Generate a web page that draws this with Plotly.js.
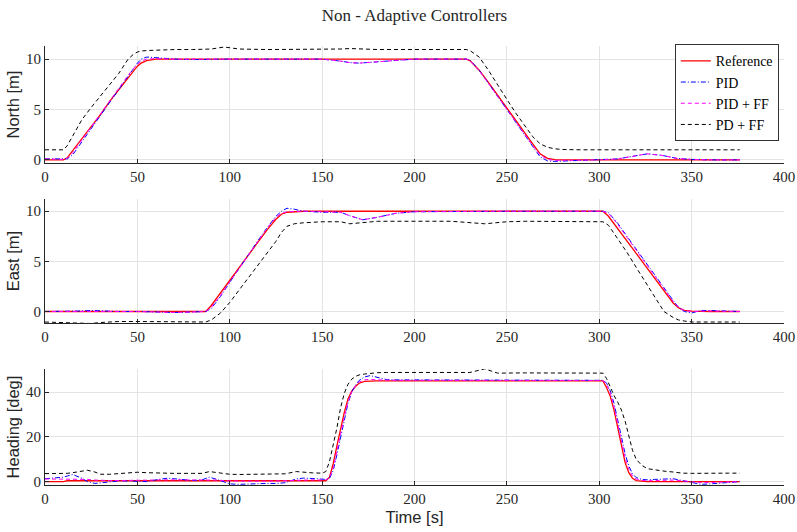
<!DOCTYPE html>
<html>
<head>
<meta charset="utf-8">
<script src="https://cdn.plot.ly/plotly-3.0.1.min.js"></script>
<style>html,body{margin:0;padding:0;background:#fff;}#chart{width:797px;height:532px;}</style>
</head>
<body>
<div id="chart"></div>
<script>
// ---------- DATA ----------
const seriesNames = ["Reference", "PID", "PID + FF", "PD + FF"];

// North [m]
const tNorth = [0,5,10,12,15,20,25,30,35,40,45,48,50,52,55,60,70,80,90,97,105,120,140,150,160,165,170,180,190,200,215,226,228,230,235,240,245,250,255,260,264,268,272,276,280,290,300,310,318,326,334,342,350,360,376];
const northRef = [0,0,0,0.2,0.9,2.1,3.3,4.5,5.8,7.0,8.2,8.9,9.3,9.6,9.85,10,10,10,10,10,10,10,10,10,10,10,10,10,10,10,10,10,10,9.85,8.9,7.7,6.4,5.2,3.9,2.6,1.6,0.6,0.15,0.03,0,0,0,0,0,0,0,0,0,0,0];
const northPID = [0.1,0.1,0.05,0.1,0.5,1.8,3.1,4.4,5.7,7.0,8.3,9.1,9.6,10.0,10.2,10.15,10.0,9.95,10.0,10.0,10.0,10.0,10.0,10.0,9.8,9.65,9.6,9.75,9.9,10.0,10.0,10.0,10.0,9.9,8.9,7.6,6.3,5.0,3.7,2.4,1.3,0.3,-0.1,-0.15,-0.12,-0.05,0.0,0.1,0.35,0.6,0.45,0.15,0.05,0.0,0.0];
const northPIDFF = [0.1,0.1,0.05,0.15,0.7,2.0,3.3,4.6,5.9,7.2,8.4,9.1,9.5,9.8,10.0,10.05,10.0,10.0,10.0,10.0,10.0,10.0,10.0,10.0,9.8,9.65,9.6,9.75,9.9,10.0,10.0,10.0,10.0,9.85,8.85,7.6,6.3,5.0,3.7,2.5,1.4,0.5,0.05,-0.05,-0.05,0,0,0.1,0.35,0.6,0.45,0.15,0.05,0,0];
const northPDFF = [1,1,1.0,1.4,2.4,4.0,5.2,6.3,7.4,8.6,10.0,10.5,10.7,10.8,10.85,10.9,10.95,10.95,11.0,11.2,11.0,10.95,10.95,10.95,11.0,11.05,11.0,10.95,10.95,10.95,10.95,10.95,10.95,10.85,10.2,8.9,7.4,6.0,4.6,3.3,2.3,1.6,1.25,1.1,1.03,1.0,1.0,1.0,1.0,1.0,1.0,1.0,1.0,1.0,1.0];

// East [m]
const tEast = [0,10,20,25,30,40,50,60,70,80,85,87,90,95,100,105,110,115,120,125,128,131,135,140,150,160,165,172,180,190,200,220,238,250,260,280,300,302,305,310,315,320,325,330,335,340,343,346,350,355,360,370,376];
const eastRef = [0,0,0,0,0,0,0,0,0,0,0,0,0.6,1.85,3.1,4.35,5.6,6.85,8.1,9.2,9.7,9.9,9.97,10,10,10,10,10,10,10,10,10,10,10,10,10,10,10,9.5,8.3,7.05,5.8,4.55,3.3,2.05,0.85,0.35,0.12,0.03,0,0,0,0];
const eastPID = [0,0,0.05,0.1,0.05,0,0,-0.05,-0.1,-0.05,0,0,0.3,1.5,2.9,4.3,5.7,7.0,8.3,9.5,10.0,10.3,10.2,10.0,9.9,9.9,9.55,9.15,9.4,9.8,9.95,10,10,10,10,10,10,10,9.85,8.8,7.5,6.2,4.9,3.6,2.3,1.1,0.4,0.0,-0.15,0.1,0.1,0,0];
const eastPIDFF = [0,0,0.05,0.05,0.05,0,0,-0.05,-0.1,-0.05,0,0,0.4,1.6,2.95,4.3,5.65,6.95,8.25,9.4,9.8,9.95,10.0,10.0,9.95,9.9,9.55,9.15,9.4,9.8,9.95,10,10,10,10,10,10,10,9.8,8.7,7.4,6.1,4.8,3.5,2.2,1.0,0.4,0.1,0,0.05,0.05,0,0];
const eastPDFF = [-1.05,-1.1,-1.2,-1.2,-1.1,-1.0,-1.0,-1.0,-1.05,-1.05,-1.05,-1.05,-0.85,-0.15,0.9,2.1,3.3,4.5,5.7,7.0,7.9,8.5,8.75,8.85,8.95,8.95,8.75,8.9,9.0,9.0,9.0,9.0,8.75,8.95,9.0,9.0,9.0,8.95,8.6,7.3,5.9,4.4,2.9,1.4,0.0,-0.6,-0.85,-0.95,-1.05,-1.05,-1.05,-1.05,-1.05];

// Heading [deg]
const tHeading = [0,5,10,12,15,20,23,27,30,35,40,45,50,55,60,66,70,80,85,89,93,100,105,110,120,125,130,136,140,145,150,152,154,156,158,160,162,164,166,168,170,173,176,180,185,190,200,220,230,238,245,260,280,300,302,304,306,308,310,312,314,316,318,320,323,326,330,335,340,345,350,355,360,370,376];
const headRef = [0,0,0,0.4,0.4,0.4,0.4,0.4,0.4,0.4,0.4,0.4,0.4,0.4,0.4,0.4,0.4,0.4,0.4,0.4,0.4,0.4,0.4,0.4,0.4,0.4,0.4,0.4,0.4,0.4,0.4,0.4,2,8,16,24,31,37,40.5,42.5,44,44.8,45,45,45,45,45,45,45,45,45,45,45,45,45,42,38,32,24,15.5,8.5,4,1.5,0.5,0.1,0,0,0,0,0,0,0,0,0,0];
const headPID = [1.3,1.5,2,2.5,3.2,1.5,0,-0.8,-0.5,0,0.3,0.3,0,0,0.8,1.5,1.3,0.5,0.8,2.0,1.0,-1.0,-1.2,-1.0,-0.8,-0.8,-0.5,1.2,1.6,1.4,1.0,1.0,1.5,5,12,20,28,35,40,43,45.2,46.8,47.4,46.5,45.6,45.5,45.5,45.5,45.5,45.3,45.2,45.3,45.3,45.3,45.3,44,40.5,35,28,20,12.5,7,3.5,1.8,1.0,0.8,1.0,1.2,1.3,0.5,-0.5,-1.2,-1.0,-0.3,0];
const headPIDFF = [1.2,1.2,1.2,1.2,1.2,1.2,1.0,0.7,0.5,0.5,0.5,0.6,0.8,0.8,0.8,0.8,0.8,0.8,0.8,0.9,0.7,0.3,0.2,0.2,0.2,0.3,0.4,0.8,0.9,0.8,0.7,0.8,1.8,6,13.5,21.5,29,35.5,40,42.8,44.5,45.5,45.7,45.5,45.3,45.3,45.3,45.3,45.2,45.1,45.1,45.2,45.2,45.2,45.2,43.5,39.5,33.5,26,18,10.5,5.5,2.5,1.2,0.6,0.4,0.5,0.6,0.7,0.4,0,-0.4,-0.4,-0.2,0];
const headPDFF = [3.6,3.6,3.6,3.7,4.0,4.8,5.1,4.3,3.3,3.3,3.6,3.9,4.2,4.0,3.8,3.7,3.7,3.7,3.7,4.5,4.0,3.3,3.2,3.2,3.3,3.3,3.5,4.5,4.2,3.9,3.8,4.5,9,16,24,33,39.5,43.5,45.8,47,47.7,48.1,48.5,48.7,48.8,48.8,48.8,48.8,48.8,50.4,48.5,48.6,48.6,48.6,48.5,46,42,38.5,35.5,32,27,21,14,10,7.3,5.8,5.2,4.7,4.3,3.8,3.7,3.8,3.8,3.8,3.8];

const xTicks = [0,50,100,150,200,250,300,350,400];

// ---------- STYLE ----------
const styles = [
  {color: "#ff0000", width: 1.3, dash: "solid"},
  {color: "#0000ff", width: 1, dash: "5px,2px,1px,2px"},
  {color: "#ff00ff", width: 1, dash: "4px,3px"},
  {color: "#000000", width: 1, dash: "4px,3px"}
];

const panels = [
  {t: tNorth, ys: [northRef, northPID, northPIDFF, northPDFF], xa: "x", ya: "y"},
  {t: tEast, ys: [eastRef, eastPID, eastPIDFF, eastPDFF], xa: "x2", ya: "y2"},
  {t: tHeading, ys: [headRef, headPID, headPIDFF, headPDFF], xa: "x3", ya: "y3"}
];

const traces = [];
panels.forEach((p, pi) => {
  p.ys.forEach((y, si) => {
    traces.push({
      x: p.t, y: y, type: "scatter", mode: "lines",
      name: seriesNames[si], xaxis: p.xa, yaxis: p.ya,
      line: styles[si], showlegend: pi === 0
    });
  });
});

const SERIF = "Liberation Serif";
const tickFont = {family: SERIF, size: 15, color: "#262626"};
const titleFont = {family: "Liberation Sans", size: 16.5, color: "#262626"};

function xaxis(anchor, showTitle) {
  const a = {
    domain: [0, 1], anchor: anchor, range: [0, 400], tickvals: xTicks,
    ticks: "inside", ticklen: 4, tickcolor: "#262626", tickwidth: 1,
    showline: true, linecolor: "#262626", linewidth: 1,
    showgrid: true, gridcolor: "#e3e3e3", gridwidth: 1, zeroline: false,
    tickfont: tickFont, automargin: false
  };
  if (showTitle) a.title = {text: "Time [s]", font: titleFont, standoff: 5};
  return a;
}
function yaxis(anchor, domain, range, tickvals, title) {
  return {
    domain: domain, anchor: anchor, range: range, tickvals: tickvals,
    ticks: "inside", ticklen: 4, tickcolor: "#262626", tickwidth: 1,
    showline: true, linecolor: "#262626", linewidth: 1,
    showgrid: true, gridcolor: "#e3e3e3", gridwidth: 1, zeroline: false,
    tickfont: tickFont, automargin: false,
    title: {text: title, font: titleFont, standoff: 2}
  };
}

const layout = {
  width: 797, height: 532,
  margin: {l: 45, r: 13, t: 46, b: 47},
  paper_bgcolor: "#ffffff", plot_bgcolor: "#ffffff",
  showlegend: true,
  title: {text: "Non - Adaptive Controllers", font: {family: SERIF, size: 17, color: "#262626"},
          x: 0.52, xanchor: "center", y: 1 - 15/532, yanchor: "middle"},
  xaxis: xaxis("y", false),
  xaxis2: xaxis("y2", false),
  xaxis3: xaxis("y3", true),
  yaxis: yaxis("x", [0.733, 1.0], [-0.33, 11.3], [0, 5, 10], "North [m]"),
  yaxis2: yaxis("x2", [0.369, 0.651], [-1.15, 11.2], [0, 5, 10], "East [m]"),
  yaxis3: yaxis("x3", [0, 0.264], [-1.5, 50.3], [0, 20, 40], "Heading [deg]"),
  legend: {
    x: 0.993, xanchor: "right", y: 1.004, yanchor: "top",
    bgcolor: "#ffffff", bordercolor: "#333333", borderwidth: 1,
    font: {family: SERIF, size: 14, color: "#000"},
    itemwidth: 30, tracegroupgap: 0, valign: "middle"
  }
};

Plotly.newPlot("chart", traces, layout, {staticPlot: true, displayModeBar: false});
</script>
</body>
</html>
